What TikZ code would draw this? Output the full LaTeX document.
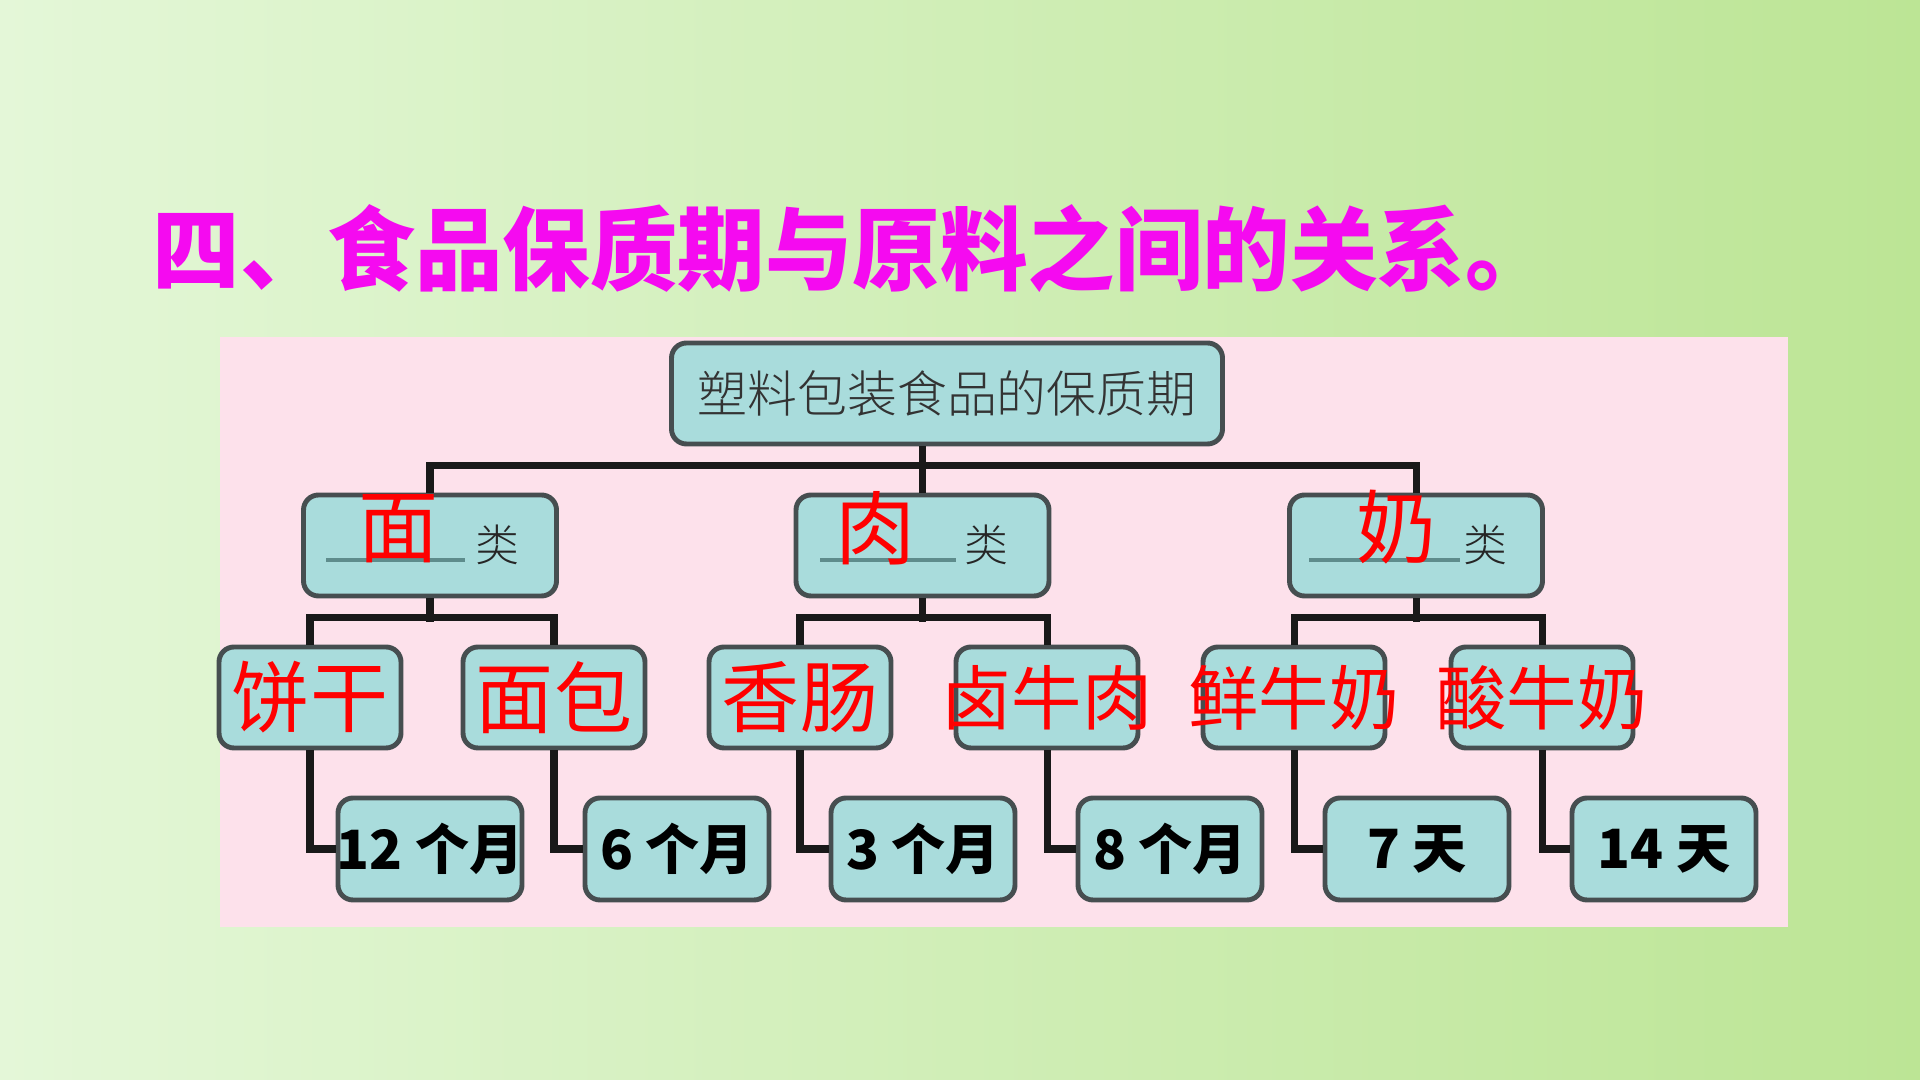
\documentclass[tikz,border=0pt]{standalone}
\usepackage{xcolor}
\usepackage{graphicx}
\usepackage{fontspec}
\usepackage{tikz}
\newfontfamily\hei{Noto Sans CJK SC}
\newfontfamily\heiblack{Noto Sans CJK SC Black}
\newfontfamily\heilight{Noto Sans CJK SC Light}
\definecolor{bgleft}{HTML}{E4F7D8}
\definecolor{bgright}{HTML}{BCE595}
\definecolor{panelpink}{HTML}{FDE1EB}
\definecolor{boxfill}{HTML}{A9DCDC}
\definecolor{boxline}{HTML}{464E50}
\definecolor{blankline}{HTML}{5E8C8C}
\definecolor{titlemag}{HTML}{F50AF0}

\begin{document}
\begin{tikzpicture}[
            card/.style={rectangle, rounded corners=0.15cm, draw=boxline, line width=1.4pt, fill=boxfill, minimum height=1.01cm, inner sep=0pt},
            topcard/.style={card, minimum width=5.51cm},
            kind/.style={card, minimum width=2.53cm},
            food/.style={card, minimum width=1.82cm},
            term/.style={card, minimum width=1.84cm, minimum height=1.02cm},
            foodtext/.style={text=red, font=\hei\fontsize{22.2}{24}\selectfont},
            foodtext3/.style={text=red, font=\hei\fontsize{20}{22}\selectfont},
            termtext/.style={text=black, font=\hei\bfseries\fontsize{15.4}{17}\selectfont},
            redchar/.style={text=red, font=\hei\fontsize{22.8}{24}\selectfont, inner sep=0pt},
            lei/.style={text=black!85, font=\heilight\fontsize{12.5}{14}\selectfont, inner sep=0pt},
            link/.style={draw=black!90, line width=2pt},
            blank/.style={draw=blankline, line width=1.3pt}
        ]

    \useasboundingbox (0,0) rectangle (19.2,10.8);
    \shade[left color=bgleft, right color=bgright] (0,0) rectangle (19.2,10.8);
    \fill[panelpink] (2.20,1.53) rectangle (17.88,7.43);

    \node[text=titlemag, font=\heiblack\fontsize{25.8}{28}\selectfont, anchor=west, inner sep=0pt] (title) at (1.52,8.31) {\scalebox{0.965}[1]{四、食品保质期与原料之间的关系。}};

    \node[topcard, label={[text=black!80, font=\heilight\fontsize{14.2}{16}\selectfont]center:塑料包装食品的保质期}] (top) at (9.47,6.865) {};

    \node[kind] (k1) at (4.30,5.345)  {};
    \node[kind] (k2) at (9.225,5.345) {};
    \node[kind] (k3) at (14.16,5.345) {};

    \draw[blank] (3.26,5.20)  -- (4.65,5.20);
    \draw[blank] (8.20,5.20)  -- (9.56,5.20);
    \draw[blank] (13.09,5.20) -- (14.60,5.20);
    \node[redchar] (mian) at (3.99,5.51)  {面};
    \node[redchar] (rou)  at (8.76,5.52)  {肉};
    \node[redchar] (nai)  at (13.97,5.53) {奶};
    \node[lei] (lei1) at (4.97,5.35)  {类};
    \node[lei] (lei2) at (9.86,5.35)  {类};
    \node[lei] (lei3) at (14.85,5.35) {类};

    \node[food, label={[foodtext]center:饼干}]    (f1) at (3.10,3.825)  {};
    \node[food, label={[foodtext]center:面包}]    (f2) at (5.54,3.825)  {};
    \node[food, label={[foodtext]center:香肠}]    (f3) at (8.00,3.825)  {};
    \node[food, label={[foodtext3]center:卤牛肉}] (f4) at (10.47,3.825) {};
    \node[food, label={[foodtext3]center:鲜牛奶}] (f5) at (12.94,3.825) {};
    \node[food, label={[foodtext3]center:酸牛奶}] (f6) at (15.42,3.825) {};

    \node[term, label={[termtext]center:12 个月}] (t1) at (4.30,2.31)  {};
    \node[term, label={[termtext]center:6 个月}]  (t2) at (6.77,2.31)  {};
    \node[term, label={[termtext]center:3 个月}]  (t3) at (9.23,2.31)  {};
    \node[term, label={[termtext]center:8 个月}]  (t4) at (11.70,2.31) {};
    \node[term, label={[termtext]center:7 天}]    (t5) at (14.17,2.31) {};
    \node[term, label={[termtext]center:14 天}]   (t6) at (16.64,2.31) {};

    % top level
    \draw[link] (k2.north) -- (k2.north |- top.south);
    \draw[link] (k1.north) -- ++(0,0.27) -| (k3.north);

    % groups
    \draw[link] (k1.south) -- ++(0,-0.24);
    \draw[link] (k2.south) -- ++(0,-0.24);
    \draw[link] (k3.south) -- ++(0,-0.24);
    \draw[link] (f1.north) -- ++(0,0.27) -| (f2.north);
    \draw[link] (f3.north) -- ++(0,0.27) -| (f4.north);
    \draw[link] (f5.north) -- ++(0,0.27) -| (f6.north);

    % shelf life
    \draw[link] (f1.south) |- (t1.west);
    \draw[link] (f2.south) |- (t2.west);
    \draw[link] (f3.south) |- (t3.west);
    \draw[link] (f4.south) |- (t4.west);
    \draw[link] (f5.south) |- (t5.west);
    \draw[link] (f6.south) |- (t6.west);

        \end{tikzpicture}
\end{document}
